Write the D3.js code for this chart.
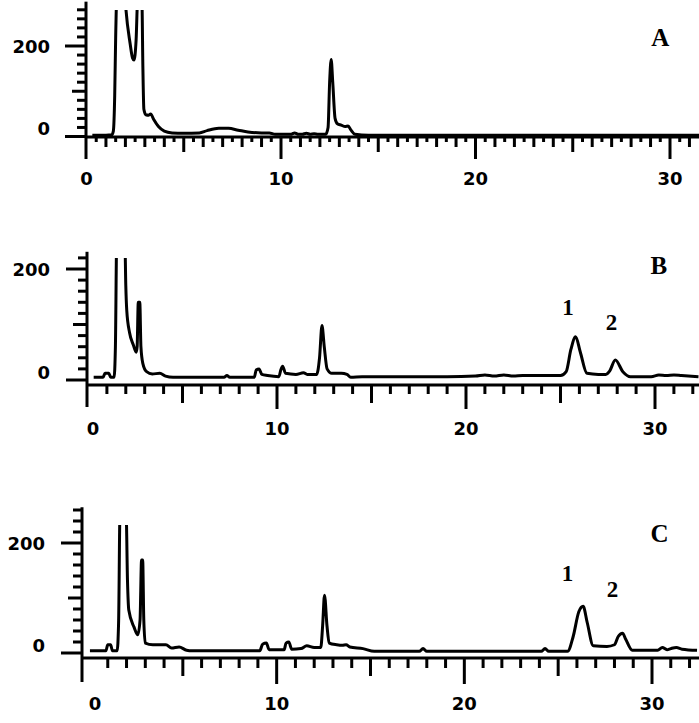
<!DOCTYPE html>
<html><head><meta charset="utf-8">
<script src="https://cdn.jsdelivr.net/npm/d3@7"></script>
<style>html,body{margin:0;padding:0;background:#fff;}svg{display:block;}</style>
</head><body>
<svg id="chart" width="699" height="723"></svg>
<script>
// ---------- data ----------
const xTickLabels = ["0", "10", "20", "30"];
const xLabelValues = [0, 10, 20, 30];
const yTickLabels = ["0", "200"];
const yLabelValues = [0, 200];
const panelLetters = ["A", "B", "C"];
const peakLabels = ["1", "2"];

const timeA = [0.3,1.0,1.3,1.38,1.45,1.5,1.58,1.95,2.03,2.24,2.37,2.44,2.55,2.62,2.7,2.78,2.85,2.9,2.95,3.05,3.2,3.3,3.45,3.7,4.0,4.4,5.0,5.8,6.2,6.8,7.3,7.8,8.3,9.0,9.4,9.7,10.5,10.7,10.9,11.1,11.3,11.5,11.7,11.9,12.3,12.42,12.5,12.58,12.66,12.78,12.9,13.1,13.3,13.45,13.6,13.8,14.5,20,25,31.6];
const signalA = [3,3,4,12,90,220,330,330,280,206,173,169,213,300,330,330,300,150,60,48,47,50,38,22,12,8,7,8,13,18,18,14,10,8,8,5,5,8,5,5,7,5,6,5,5,20,120,170,120,40,28,25,22,23,14,5,3,3,3,3];

const timeB = [0.3,0.8,0.9,1.1,1.2,1.38,1.45,1.52,1.95,2.0,2.05,2.2,2.4,2.55,2.6,2.66,2.74,2.8,2.9,3.1,3.4,3.8,4.1,4.5,7.2,7.35,7.5,8.8,8.9,9.05,9.2,9.5,10.1,10.2,10.3,10.45,11.0,11.4,11.6,12.1,12.25,12.38,12.5,12.65,12.9,13.4,13.7,13.9,14.5,19,20.5,21,21.5,22,22.5,23,24,25,25.3,25.55,25.8,26.05,26.4,27.0,27.4,27.6,27.9,28.3,28.7,29.8,30.2,30.6,31.0,31.4,32.3];
const signalB = [5,5,12,12,5,5,60,250,250,170,126,85,63,50,60,140,140,60,30,15,11,12,7,5,5,8,5,5,18,20,10,8,6,18,25,12,10,13,10,10,40,98,60,20,12,12,10,5,6,6,7,9,7,9,7,8,8,8,15,55,78,50,12,10,10,16,36,15,6,6,9,8,9,8,6];

const timeC = [0.05,0.9,1.0,1.15,1.25,1.5,1.58,1.65,1.98,2.05,2.12,2.4,2.6,2.72,2.8,2.86,2.92,3.0,3.4,4.1,4.4,4.8,5.2,5.5,9.1,9.25,9.45,9.6,10.4,10.5,10.65,10.8,11.3,11.6,12.0,12.35,12.45,12.55,12.68,12.8,13.2,13.5,13.7,13.9,14.6,15.2,17.6,17.8,18.0,24.1,24.3,24.5,25.5,25.8,26.1,26.33,26.55,26.87,27.6,28.0,28.2,28.43,28.6,28.95,30.3,30.55,30.8,31.0,31.3,31.6,32.4];
const signalC = [4,4,15,15,4,4,60,250,250,133,78,47,33,60,169,169,60,18,15,15,9,11,5,4,4,16,18,6,6,18,20,7,8,13,10,10,50,105,50,18,15,14,15,11,8,3,3,8,3,3,8,3,3,30,75,85,55,13,12,15,30,36,25,5,5,10,6,8,10,7,5];

// ---------- layout ----------
const W = 699, H = 723;
const svg = d3.select("#chart");
const FONT_TICK = "'DejaVu Sans', Verdana, sans-serif";
const FONT_SERIF = "'Liberation Serif', 'Times New Roman', serif";

const panels = [
  { t: timeA, v: signalA, letter: panelLetters[0],
    x0: 86.5, x30: 670, y0: 136.5, y200: 46, axisY: 137, yAxisX: 86,
    yTop: 298, clipTop: 10, tickTop: 280, xStep: 0.5, xTickLen: {ten: 22, five: 15, one: 10, half: 5},
    below: 22, xLabelY: 178, xLabelDx: [0,0,0,0], letterPos: [29.5, 218], peaks: null, yLabelRight: 50 },
  { t: timeB, v: signalB, letter: panelLetters[1],
    x0: 88, x30: 655, y0: 380, y200: 269, axisY: 385, yAxisX: 87,
    yTop: 231, clipTop: 258, tickTop: 220, xStep: 1, xTickLen: {ten: 24, five: 18, one: 9, half: 5},
    below: 22, xLabelY: 428, xLabelDx: [5,0,0,0], letterPos: [30.2, 207], peaks: [[25.4,131],[27.7,104]], yLabelRight: 50 },
  { t: timeC, v: signalC, letter: panelLetters[2],
    x0: 89, x30: 652, y0: 653, y200: 543, axisY: 658, yAxisX: 82,
    yTop: 265, clipTop: 525, tickTop: 260, xStep: 1, xTickLen: {ten: 26, five: 18, one: 10, half: 5},
    below: 24, xLabelY: 703, xLabelDx: [6,0,0,0], letterPos: [30.4, 218], peaks: [[25.5,145],[27.9,115]], yLabelRight: 45 }
];

const defs = svg.append("defs");

panels.forEach((p, i) => {
  const x = d3.scaleLinear().domain([0, 30]).range([p.x0, p.x30]);
  const y = d3.scaleLinear().domain([0, 200]).range([p.y0, p.y200]);
  const g = svg.append("g");
  const tMax = x.invert(W);

  // clip for trace
  defs.append("clipPath").attr("id", "clip" + i)
    .append("rect").attr("x", p.yAxisX).attr("y", p.clipTop)
    .attr("width", W - p.yAxisX).attr("height", p.axisY + 10 - p.clipTop);

  // trace
  const line = d3.line().x(d => x(d[0])).y(d => y(d[1])).curve(d3.curveMonotoneX);
  g.append("path").datum(d3.zip(p.t, p.v))
    .attr("clip-path", `url(#clip${i})`)
    .attr("d", line)
    .attr("fill", "none").attr("stroke", "#000").attr("stroke-width", 3)
    .attr("stroke-linejoin", "round");

  // y axis line
  g.append("line").attr("x1", p.yAxisX).attr("x2", p.yAxisX)
    .attr("y1", y(p.yTop)).attr("y2", p.axisY + p.below)
    .attr("stroke", "#000").attr("stroke-width", 3);

  // y ticks
  const yTicks = d3.range(0, p.tickTop + 1, 20);
  g.selectAll(null).data(yTicks).enter().append("line")
    .attr("x1", d => p.yAxisX - (d % 200 === 0 ? 21 : d % 100 === 0 ? 14 : 9))
    .attr("x2", p.yAxisX)
    .attr("y1", d => y(d)).attr("y2", d => y(d))
    .attr("stroke", "#000").attr("stroke-width", 3);

  // y labels
  g.selectAll(null).data(yLabelValues).enter().append("text")
    .attr("x", p.yLabelRight)
    .attr("y", d => y(d) - (d === 0 ? 8 : 0))
    .attr("text-anchor", "end").attr("dominant-baseline", "central")
    .attr("font-family", FONT_TICK).attr("font-weight", "bold").attr("font-size", 18)
    .text((d, k) => yTickLabels[k]);

  // x axis line
  g.append("line").attr("x1", p.yAxisX).attr("x2", W)
    .attr("y1", p.axisY).attr("y2", p.axisY)
    .attr("stroke", "#000").attr("stroke-width", 3);

  // x ticks
  const xTicks = d3.range(p.xStep, tMax, p.xStep);
  g.selectAll(null).data(xTicks).enter().append("line")
    .attr("x1", d => x(d)).attr("x2", d => x(d))
    .attr("y1", p.axisY)
    .attr("y2", d => {
      const r = Math.round(d * 2) / 2;
      let L = p.xTickLen.half;
      if (r % 10 === 0) L = p.xTickLen.ten;
      else if (r % 5 === 0) L = p.xTickLen.five;
      else if (r % 1 === 0) L = p.xTickLen.one;
      return p.axisY + L;
    })
    .attr("stroke", "#000").attr("stroke-width", 3);

  // x labels
  g.selectAll(null).data(xLabelValues).enter().append("text")
    .attr("x", (d, k) => x(d) + p.xLabelDx[k])
    .attr("y", p.xLabelY)
    .attr("text-anchor", "middle").attr("dominant-baseline", "central")
    .attr("font-family", FONT_TICK).attr("font-weight", "bold").attr("font-size", 18)
    .text((d, k) => xTickLabels[k]);

  // panel letter
  g.append("text")
    .attr("x", x(p.letterPos[0])).attr("y", y(p.letterPos[1]))
    .attr("text-anchor", "middle").attr("dominant-baseline", "central")
    .attr("font-family", FONT_SERIF).attr("font-weight", "bold").attr("font-size", 25)
    .text(p.letter);

  // peak labels
  if (p.peaks) {
    g.selectAll(null).data(p.peaks).enter().append("text")
      .attr("x", d => x(d[0])).attr("y", d => y(d[1]))
      .attr("text-anchor", "middle").attr("dominant-baseline", "central")
      .attr("font-family", FONT_SERIF).attr("font-weight", "bold").attr("font-size", 23)
      .text((d, k) => peakLabels[k]);
  }
});
</script>
</body></html>
